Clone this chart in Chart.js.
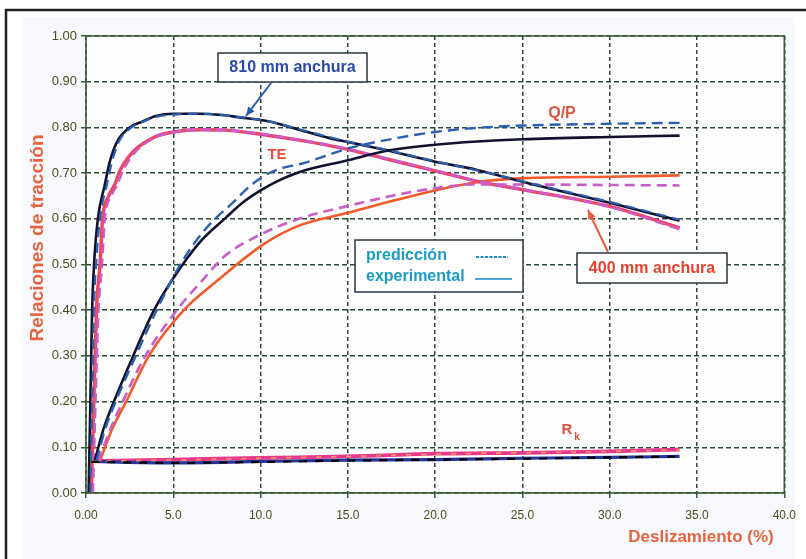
<!DOCTYPE html>
<html><head><meta charset="utf-8">
<script src="https://cdn.jsdelivr.net/npm/chart.js@4"></script>
<style>html,body{margin:0;padding:0;background:#fff}#wrap{width:806px;height:559px;position:relative}</style>
</head><body><div id="wrap"><canvas id="c"></canvas></div>
<script>
// ---- tick labels ----
const xTickLabels = ['0.00','5.0','10.0','15.0','20.0','25.0','30.0','35.0','40.0'];
const yTickLabels = ['0.00','0.10','0.20','0.30','0.40','0.50','0.60','0.70','0.80','0.90','1.00'];

// ---- series: [slip %, ratio] ----
// 810 mm width
const te810Exp = [[0.15,0.0],[0.25,0.2],[0.35,0.4],[0.46,0.5],[0.68,0.6],[1.08,0.675],[1.37,0.726],[1.8,0.77],[2.5,0.80],[3.25,0.813],[4,0.825],[5,0.83],[6.5,0.83],[7.8,0.827],[8.8,0.822],[10.5,0.813],[12.2,0.795],[14,0.776],[15,0.768],[17.1,0.751],[20,0.725],[22.4,0.707],[25,0.681],[30,0.635],[34,0.596]];
const te810Pred = [[0.25,0.0],[0.35,0.2],[0.45,0.4],[0.58,0.5],[0.8,0.6],[1.2,0.675],[1.5,0.726],[1.9,0.77],[2.6,0.80],[3.3,0.813],[4,0.823],[5,0.828],[6.5,0.83],[8,0.826],[10.5,0.813],[12.2,0.796],[15,0.769],[17.1,0.752],[20,0.726],[22.4,0.706],[25,0.682],[30,0.637],[34,0.598]];
const qp810Exp = [[0.5,0.07],[1.0,0.14],[1.6,0.2],[2.7,0.3],[3.9,0.4],[5.0,0.47],[6.5,0.548],[8.0,0.602],[9.0,0.636],[10,0.662],[11,0.683],[12.2,0.702],[15,0.728],[17.1,0.748],[20,0.762],[22.4,0.769],[25,0.774],[30,0.779],[34,0.782]];
const qp810Pred = [[0.6,0.07],[1.1,0.14],[1.7,0.2],[2.85,0.3],[4.05,0.4],[5.4,0.5],[6.9,0.58],[8.4,0.635],[9.5,0.675],[10.65,0.703],[12.57,0.723],[14.05,0.742],[15,0.754],[17.86,0.777],[20,0.79],[22.4,0.799],[25,0.804],[30,0.808],[34,0.81]];
const rk810Exp = [[0.3,0.069],[5,0.066],[10,0.069],[15,0.072],[20,0.073],[25,0.076],[30,0.078],[34,0.080]];
const rk810Pred = [[0.3,0.068],[5,0.066],[10,0.068],[15,0.071],[20,0.073],[25,0.075],[30,0.078],[34,0.080]];
// 400 mm width
const te400Exp = [[0.3,0.0],[0.45,0.2],[0.6,0.4],[0.8,0.5],[0.95,0.6],[1.3,0.65],[1.65,0.675],[1.93,0.704],[2.7,0.747],[4,0.78],[5,0.79],[6.5,0.795],[8,0.794],[10,0.785],[12.2,0.772],[15,0.752],[17,0.733],[20,0.705],[22.4,0.682],[25,0.664],[30,0.627],[34,0.58]];
const te400Pred = [[0.4,0.0],[0.55,0.2],[0.72,0.4],[0.92,0.5],[1.08,0.6],[1.45,0.65],[1.8,0.675],[2.1,0.704],[2.85,0.747],[4.1,0.78],[5,0.789],[6.5,0.795],[8,0.794],[10,0.786],[12.2,0.773],[15,0.753],[17,0.734],[20,0.706],[22.4,0.683],[25,0.665],[30,0.626],[34,0.577]];
const qp400Exp = [[0.8,0.07],[1.5,0.14],[2.3,0.2],[3.6,0.3],[5.6,0.4],[7.6,0.467],[10.2,0.545],[12.2,0.585],[15,0.613],[17.86,0.642],[20,0.662],[22.2,0.679],[25.1,0.689],[30,0.692],[34,0.695]];
const qp400Pred = [[0.7,0.07],[1.4,0.14],[2.1,0.2],[3.4,0.3],[5.2,0.4],[6.7,0.467],[8,0.52],[9.8,0.562],[12.2,0.6],[15,0.628],[17.86,0.653],[20,0.667],[22.2,0.675],[25,0.675],[30,0.674],[34,0.673]];
const rk400Exp = [[0.3,0.07],[5,0.073],[10,0.077],[15,0.08],[20,0.086],[25,0.088],[30,0.091],[34,0.095]];
const rk400Pred = [[0.3,0.069],[5,0.072],[10,0.076],[15,0.080],[20,0.085],[25,0.088],[30,0.091],[34,0.094]];

const C = {
  black:'#12122e', blue:'#2d5fae', orange:'#f25a2c', pink:'#e8388c', magenta:'#c95ec8', navy:'#26359c'
};
const pts = a => a.map(p => ({x:p[0], y:p[1]}));
function ds(label, data, color, width, dash, order){
  return {label, data:pts(data), borderColor:color, borderWidth:width, borderDash:dash||[],
    pointRadius:0, fill:false, cubicInterpolationMode:'monotone', order, borderCapStyle:'butt'};
}
const datasets = [
  ds('TE 810 pred', te810Pred, C.blue, 2.2, [10,6], 2),
  ds('TE 810 exp', te810Exp, C.black, 2.6, [], 3),
  ds('Q/P 810 pred', qp810Pred, C.blue, 2.4, [11,6], 1),
  ds('Q/P 810 exp', qp810Exp, C.black, 2.6, [], 4),
  ds('TE 400 pred', te400Pred, C.magenta, 2.4, [10,5], 5),
  ds('TE 400 exp', te400Exp, C.pink, 3.4, [], 7),
  ds('TE 400 exp core', te400Exp, C.orange, 1.2, [], 6),
  ds('Q/P 400 pred', qp400Pred, C.magenta, 2.6, [10,6], 5),
  ds('Q/P 400 exp', qp400Exp, C.orange, 2.6, [], 8),
  ds('Rk 810 pred', rk810Pred, '#000000', 2.2, [8,8], 1),
  ds('Rk 810 exp', rk810Exp, C.navy, 3.2, [], 9),
  ds('Rk 400 pred', rk400Pred, '#f39a60', 1.6, [5,10], 1),
  ds('Rk 400 exp', rk400Exp, C.pink, 3.8, [], 9)
];

function arrow(ctx, x1, y1, x2, y2, color){
  ctx.save();
  ctx.strokeStyle = color; ctx.fillStyle = color; ctx.lineWidth = 2;
  ctx.beginPath(); ctx.moveTo(x1,y1); ctx.lineTo(x2,y2); ctx.stroke();
  const a = Math.atan2(y2-y1, x2-x1), L = 9, W = 4;
  ctx.beginPath();
  ctx.moveTo(x2,y2);
  ctx.lineTo(x2 - L*Math.cos(a) + W*Math.sin(a), y2 - L*Math.sin(a) - W*Math.cos(a));
  ctx.lineTo(x2 - L*Math.cos(a) - W*Math.sin(a), y2 - L*Math.sin(a) + W*Math.cos(a));
  ctx.closePath(); ctx.fill();
  ctx.restore();
}
function box(ctx, x, y, w, h){
  ctx.save();
  ctx.fillStyle = '#ffffff'; ctx.fillRect(x,y,w,h);
  ctx.strokeStyle = '#2a3440'; ctx.lineWidth = 1.5; ctx.strokeRect(x,y,w,h);
  ctx.restore();
}

const decor = {
  id:'decor',
  beforeDraw(chart){
    const ctx = chart.ctx, a = chart.chartArea;
    ctx.save();
    ctx.fillStyle = '#ffffff'; ctx.fillRect(0,0,chart.width,chart.height);
    ctx.fillStyle = '#f8f9fc'; ctx.fillRect(22,17,773,542);
    ctx.fillStyle = '#fdfdfd'; ctx.fillRect(a.left,a.top,a.right-a.left,a.bottom-a.top);
    ctx.strokeStyle = '#202020'; ctx.lineWidth = 2.5;
    ctx.beginPath(); ctx.moveTo(6,560); ctx.lineTo(6,10); ctx.lineTo(806,10); ctx.stroke();
    ctx.restore();
  },
  afterDatasetsDraw(chart){
    const ctx = chart.ctx, a = chart.chartArea;
    ctx.save();
    // plot frame
    ctx.strokeStyle = '#3d5a36'; ctx.lineWidth = 1.6;
    ctx.strokeRect(a.left, a.top, a.right-a.left, a.bottom-a.top);

    ctx.textBaseline = 'middle'; ctx.textAlign = 'center';
    // 810 mm label
    arrow(ctx, 271, 83, 246, 116, '#2a5ab0');
    box(ctx, 218, 53, 149, 29);
    ctx.fillStyle = '#2b4aa8'; ctx.font = 'bold 16px "Liberation Sans", Arial, sans-serif';
    ctx.fillText('810 mm anchura', 292.5, 68);
    // 400 mm label
    arrow(ctx, 608, 252, 588, 210, '#f0583a');
    box(ctx, 577, 253, 150, 30);
    ctx.fillStyle = '#e8402c';
    ctx.fillText('400 mm anchura', 652, 268.5);
    // curve names
    ctx.fillStyle = '#e0503a';
    ctx.font = 'bold 15px "Liberation Sans", Arial, sans-serif';
    ctx.fillText('TE', 277, 155);
    ctx.font = 'bold 16px "Liberation Sans", Arial, sans-serif';
    ctx.fillText('Q/P', 562, 114);
    ctx.font = 'bold 15px "Liberation Sans", Arial, sans-serif';
    ctx.fillText('R', 567, 430);
    ctx.font = 'bold 10px "Liberation Sans", Arial, sans-serif';
    ctx.fillText('k', 577, 437);
    // legend box
    box(ctx, 355, 240, 168, 52);
    ctx.textAlign = 'left';
    ctx.fillStyle = '#1a9cc4';
    ctx.font = 'bold 16px "Liberation Sans", Arial, sans-serif';
    ctx.fillText('predicción', 366, 256);
    ctx.fillText('experimental', 366, 277);
    ctx.strokeStyle = '#1a8cc8'; ctx.lineWidth = 2;
    ctx.setLineDash([3,1.5]);
    ctx.beginPath(); ctx.moveTo(476,257); ctx.lineTo(508,257); ctx.stroke();
    ctx.setLineDash([]); ctx.lineWidth = 1.4;
    ctx.beginPath(); ctx.moveTo(475,279); ctx.lineTo(512,279); ctx.stroke();
    // axis titles
    ctx.textAlign = 'center';
    ctx.fillStyle = '#e5643e';
    ctx.font = 'bold 17px "Liberation Sans", Arial, sans-serif';
    ctx.fillText('Deslizamiento (%)', 701, 537);
    ctx.translate(38, 238); ctx.rotate(-Math.PI/2);
    ctx.font = 'bold 19px "Liberation Sans", Arial, sans-serif';
    ctx.fillText('Relaciones de tracción', 0, 0);
    ctx.restore();
  }
};

const gridOpts = {color:'#2c4a3c', lineWidth:1.5, tickLength:5, tickColor:'#3d5a36', drawTicks:true};
new Chart(document.getElementById('c'), {
  type:'line',
  data:{datasets},
  plugins:[decor],
  options:{
    responsive:true, maintainAspectRatio:false, animation:false,
    layout:{padding:{left:0, right:17, top:36, bottom:0}},
    plugins:{legend:{display:false}, tooltip:{enabled:false}},
    scales:{
      x:{type:'linear', min:0, max:40,
        afterFit(s){ s.height = 66; },
        grid:gridOpts, border:{display:false, dash:[4,3]},
        ticks:{stepSize:5, autoSkip:false, maxRotation:0, padding:10, color:'#4b4b1c',
          font:{family:'"Liberation Sans Narrow", "Liberation Sans", Arial', size:12},
          callback:(v,i)=>xTickLabels[i]}},
      y:{type:'linear', min:0, max:1,
        afterFit(s){ s.width = 86; },
        grid:gridOpts, border:{display:false, dash:[5,3]},
        ticks:{stepSize:0.1, autoSkip:false, padding:4, color:'#4b4b1c',
          font:{family:'"Liberation Sans Narrow", "Liberation Sans", Arial', size:13},
          callback:(v,i)=>yTickLabels[i]}}
    }
  }
});
</script></body></html>
